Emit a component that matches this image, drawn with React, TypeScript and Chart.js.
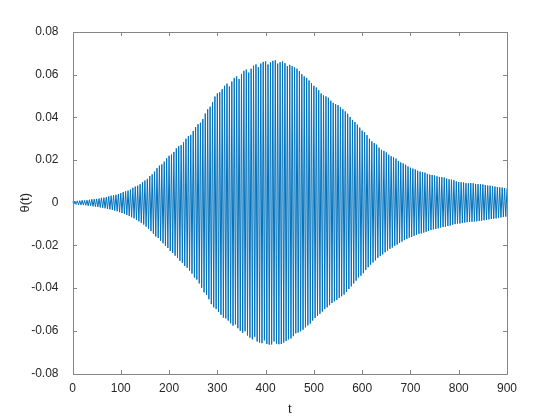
import React, { useEffect, useRef } from "react";
import { Chart, registerables } from "chart.js";

Chart.register(...registerables);

// Upper oscillation peaks, read at t = 0, 5, 10, ... 900
const upperPeaks: number[] = [
  0.0006, 0.0008, 0.0009, 0.0010, 0.0011, 0.0011, 0.0012, 0.0014, 0.0016, 0.0017,
  0.0018, 0.0020, 0.0023, 0.0024, 0.0026, 0.0030, 0.0033, 0.0035, 0.0037, 0.0041,
  0.0045, 0.0050, 0.0054, 0.0057, 0.0062, 0.0070, 0.0076, 0.0080, 0.0087, 0.0096,
  0.0104, 0.0112, 0.0125, 0.0133, 0.0146, 0.0162, 0.0174, 0.0180, 0.0193, 0.0208,
  0.0220, 0.0226, 0.0238, 0.0255, 0.0265, 0.0270, 0.0283, 0.0300, 0.0312, 0.0318,
  0.0336, 0.0355, 0.0368, 0.0375, 0.0392, 0.0418, 0.0438, 0.0450, 0.0472, 0.0498,
  0.0512, 0.0518, 0.0532, 0.0548, 0.0558, 0.0545, 0.0568, 0.0585, 0.0592, 0.0580,
  0.0603, 0.0618, 0.0624, 0.0610, 0.0628, 0.0642, 0.0648, 0.0635, 0.0652, 0.0660,
  0.0662, 0.0648, 0.0658, 0.0665, 0.0667, 0.0652, 0.0659, 0.0662, 0.0654, 0.0640,
  0.0646, 0.0640, 0.0634, 0.0628, 0.0617, 0.0602, 0.0592, 0.0585, 0.0573, 0.0560,
  0.0548, 0.0540, 0.0527, 0.0512, 0.0503, 0.0498, 0.0492, 0.0478, 0.0468, 0.0462,
  0.0457, 0.0447, 0.0438, 0.0428, 0.0417, 0.0402, 0.0388, 0.0378, 0.0366, 0.0352,
  0.0338, 0.0330, 0.0317, 0.0300, 0.0288, 0.0280, 0.0272, 0.0258, 0.0248, 0.0243,
  0.0236, 0.0225, 0.0218, 0.0213, 0.0207, 0.0196, 0.0189, 0.0184, 0.0178, 0.0170,
  0.0164, 0.0160, 0.0156, 0.0150, 0.0146, 0.0144, 0.0141, 0.0135, 0.0132, 0.0130,
  0.0128, 0.0124, 0.0121, 0.0120, 0.0118, 0.0113, 0.0110, 0.0108, 0.0106, 0.0100,
  0.0097, 0.0096, 0.0095, 0.0092, 0.0091, 0.0092, 0.0091, 0.0088, 0.0087, 0.0087,
  0.0086, 0.0083, 0.0081, 0.0080, 0.0078, 0.0076, 0.0073, 0.0072, 0.0071, 0.0069,
  0.0067,
];
const upperTimes: number[] = upperPeaks.map((_, i) => i * 5);

// Lower oscillation peaks, read at t = 2.5, 7.5, 12.5, ... 897.5
const lowerPeaks: number[] = [
  -0.0007, -0.0008, -0.0010, -0.0010, -0.0011, -0.0012, -0.0014, -0.0015, -0.0017, -0.0018,
  -0.0020, -0.0022, -0.0024, -0.0026, -0.0029, -0.0031, -0.0034, -0.0037, -0.0040, -0.0044,
  -0.0048, -0.0052, -0.0057, -0.0062, -0.0068, -0.0073, -0.0080, -0.0087, -0.0094, -0.0102,
  -0.0112, -0.0122, -0.0133, -0.0145, -0.0158, -0.0165, -0.0178, -0.0190, -0.0202, -0.0212,
  -0.0226, -0.0235, -0.0248, -0.0258, -0.0272, -0.0282, -0.0296, -0.0305, -0.0318, -0.0332,
  -0.0350, -0.0360, -0.0378, -0.0398, -0.0420, -0.0432, -0.0452, -0.0475, -0.0490, -0.0498,
  -0.0512, -0.0525, -0.0538, -0.0542, -0.0552, -0.0565, -0.0576, -0.0570, -0.0588, -0.0600,
  -0.0610, -0.0602, -0.0622, -0.0632, -0.0640, -0.0628, -0.0650, -0.0655, -0.0658, -0.0645,
  -0.0662, -0.0665, -0.0664, -0.0650, -0.0660, -0.0663, -0.0662, -0.0655, -0.0648, -0.0640,
  -0.0636, -0.0625, -0.0612, -0.0608, -0.0602, -0.0595, -0.0584, -0.0575, -0.0566, -0.0552,
  -0.0540, -0.0530, -0.0520, -0.0510, -0.0498, -0.0490, -0.0480, -0.0470, -0.0462, -0.0455,
  -0.0446, -0.0438, -0.0430, -0.0418, -0.0404, -0.0392, -0.0378, -0.0365, -0.0350, -0.0342,
  -0.0330, -0.0315, -0.0302, -0.0290, -0.0280, -0.0270, -0.0258, -0.0250, -0.0242, -0.0232,
  -0.0224, -0.0216, -0.0210, -0.0202, -0.0196, -0.0188, -0.0182, -0.0175, -0.0170, -0.0164,
  -0.0160, -0.0155, -0.0150, -0.0146, -0.0144, -0.0140, -0.0136, -0.0132, -0.0128, -0.0125,
  -0.0123, -0.0120, -0.0116, -0.0114, -0.0112, -0.0109, -0.0107, -0.0103, -0.0100, -0.0098,
  -0.0097, -0.0095, -0.0093, -0.0091, -0.0090, -0.0089, -0.0088, -0.0087, -0.0085, -0.0084,
  -0.0082, -0.0080, -0.0078, -0.0076, -0.0075, -0.0073, -0.0071, -0.0069, -0.0067, -0.0065,
];
const lowerTimes: number[] = lowerPeaks.map((_, i) => i * 5 + 2.5);

const xTickValues: number[] = [0, 100, 200, 300, 400, 500, 600, 700, 800, 900];
const yTickValues: number[] = [-0.08, -0.06, -0.04, -0.02, 0, 0.02, 0.04, 0.06, 0.08];

const AXIS_COLOR = "#858585";
const TEXT_COLOR = "#262626";
const LINE_COLOR = "#0072BD";
const FONT = "'Liberation Sans', Arial, Helvetica, sans-serif";

const boxPlugin = {
  id: "matlabBox",
  afterDraw(chart: any) {
    const { ctx, chartArea, scales } = chart;
    const { left, right, top, bottom } = chartArea;
    ctx.save();
    ctx.strokeStyle = AXIS_COLOR;
    ctx.lineWidth = 1;
    ctx.beginPath();
    ctx.rect(Math.round(left) + 0.5, Math.round(top) + 0.5, Math.round(right) - Math.round(left), Math.round(bottom) - Math.round(top));
    ctx.stroke();
    const tl = 4;
    ctx.beginPath();
    for (const v of xTickValues) {
      const px = Math.round(scales.x.getPixelForValue(v)) + 0.5;
      ctx.moveTo(px, Math.round(bottom));
      ctx.lineTo(px, Math.round(bottom) - tl);
      ctx.moveTo(px, Math.round(top));
      ctx.lineTo(px, Math.round(top) + tl);
    }
    for (const v of yTickValues) {
      const py = Math.round(scales.y.getPixelForValue(v)) + 0.5;
      ctx.moveTo(Math.round(left), py);
      ctx.lineTo(Math.round(left) + tl, py);
      ctx.moveTo(Math.round(right), py);
      ctx.lineTo(Math.round(right) - tl, py);
    }
    ctx.stroke();
    ctx.restore();
  },
};

export default function App() {
  const canvasRef = useRef<HTMLCanvasElement | null>(null);

  useEffect(() => {
    const canvas = canvasRef.current;
    if (!canvas) return;
    const points: { x: number; y: number }[] = [];
    upperTimes.forEach((t, i) => points.push({ x: t, y: upperPeaks[i] }));
    lowerTimes.forEach((t, i) => points.push({ x: t, y: lowerPeaks[i] }));
    points.sort((a, b) => a.x - b.x);

    const chart = new Chart(canvas, {
      type: "line",
      data: {
        datasets: [
          {
            data: points,
            borderColor: LINE_COLOR,
            borderWidth: 1,
            pointRadius: 0,
            tension: 0,
            fill: false,
          },
        ],
      },
      options: {
        responsive: false,
        animation: false,
        devicePixelRatio: 1,
        layout: { padding: { top: 32, right: 53, left: 0, bottom: 0 } },
        plugins: { legend: { display: false }, tooltip: { enabled: false } },
        scales: {
          x: {
            type: "linear",
            min: 0,
            max: 900,
            afterFit: (s: any) => {
              s.height = 46.5;
            },
            afterBuildTicks: (s: any) => {
              s.ticks = xTickValues.map((v) => ({ value: v }));
            },
            grid: { display: false },
            border: { display: false },
            ticks: {
              padding: 0,
              color: TEXT_COLOR,
              font: { family: FONT, size: 12 },
              maxRotation: 0,
              callback: (v: any) => String(v),
            },
            title: {
              display: true,
              text: "t",
              color: TEXT_COLOR,
              font: { family: FONT, size: 13 },
              padding: { top: 0, bottom: 3 },
            },
          },
          y: {
            type: "linear",
            min: -0.08,
            max: 0.08,
            afterFit: (s: any) => {
              s.width = 72.5;
            },
            afterBuildTicks: (s: any) => {
              s.ticks = yTickValues.map((v) => ({ value: v }));
            },
            grid: { display: false },
            border: { display: false },
            ticks: {
              padding: 6,
              color: TEXT_COLOR,
              font: { family: FONT, size: 12 },
              callback: (v: any) => String(Number(Number(v).toFixed(2))),
            },
            title: {
              display: true,
              text: "θ(t)",
              color: TEXT_COLOR,
              font: { family: FONT, size: 13 },
              padding: { top: 18, bottom: 0 },
            },
          },
        },
      },
      plugins: [boxPlugin],
    });
    return () => chart.destroy();
  }, []);

  return (
    <div style={{ position: "absolute", left: 0, top: 0, width: 560, height: 420, background: "#fff" }}>
      <canvas ref={canvasRef} width={560} height={420} style={{ width: 560, height: 420, display: "block" }} />
    </div>
  );
}
